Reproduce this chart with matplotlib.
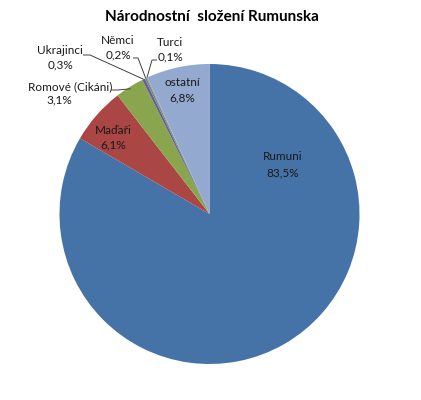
import numpy as np
import matplotlib
matplotlib.use("Agg")
import matplotlib.pyplot as plt

categories = ["Rumuni", "Maďaři", "Romové (Cikáni)", "Ukrajinci", "Němci", "Turci", "ostatní"]
values = [83.5, 6.1, 3.1, 0.3, 0.2, 0.1, 6.8]
value_labels = ["83,5%", "6,1%", "3,1%", "0,3%", "0,2%", "0,1%", "6,8%"]
colors = ["#4572A7", "#AA4643", "#89A54E", "#71588F", "#4198AF", "#DB843D", "#93A9CF"]

plt.rcParams['font.family'] = ['Lato', 'DejaVu Sans']

W, H = 421, 400
fig = plt.figure(figsize=(W / 100, H / 100), dpi=100)
ax = fig.add_axes([0, 0, 1, 1])
ax.set_xlim(0, W)
ax.set_ylim(0, H)
ax.set_aspect('equal')
ax.axis('off')

def Y(y):
    return H - y

cx, cy, r = 209.5, Y(214), 150
wedges, _ = ax.pie(values, colors=colors, startangle=90, counterclock=False,
                   center=(cx, cy), radius=r, frame=True,
                   wedgeprops=dict(linewidth=0))
ax.set_xlim(0, W)
ax.set_ylim(0, H)
ax.axis('off')

# label positions (image pixel coords): name line, value line
label_pos = {
    "Rumuni": (283, 157, 173),
    "Maďaři": (113, 130, 145),
    "Romové (Cikáni)": (70, 87, 100),
    "Ukrajinci": (60, 51, 65),
    "Němci": (118, 40, 55),
    "Turci": (170, 43, 57),
    "ostatní": (182, 83, 98),
}
value_x = {"Romové (Cikáni)": 59}
fs = 8.5
tc = "#1a1a1a"
for cat, vl in zip(categories, value_labels):
    x, y1, y2 = label_pos[cat]
    ax.text(x, Y(y1), cat, ha='center', va='center', fontsize=fs, color=tc)
    ax.text(value_x.get(cat, x), Y(y2), vl, ha='center', va='center', fontsize=fs, color=tc)

def edge_point(i):
    w = wedges[i]
    a = np.deg2rad((w.theta1 + w.theta2) / 2)
    return cx + r * np.cos(a), cy + r * np.sin(a)

lc = "#404040"
lw = 0.7
# leader lines: (index, start point, elbow point)
leaders = [
    (2, (111, 90), (118, 90)),
    (3, (83, 55), (90, 55)),
    (4, (133, 58), (138, 58)),
    (5, (157, 60), (152, 60)),
]
for i, p0, p1 in leaders:
    ex, ey = edge_point(i)
    if i == 2:
        ex, ey = cx + (r - 2) * np.cos(np.deg2rad((wedges[i].theta1 + wedges[i].theta2) / 2)), \
                 cy + (r - 2) * np.sin(np.deg2rad((wedges[i].theta1 + wedges[i].theta2) / 2))
    ax.plot([p0[0], p1[0], ex], [Y(p0[1]), Y(p1[1]), ey], color=lc, lw=lw,
            solid_capstyle='butt')

ax.text(212, Y(17), "Národnostní  složení Rumunska", ha='center', va='center',
        fontsize=11, fontweight='bold', color="#000000")

fig.savefig("out.png", dpi=100)
